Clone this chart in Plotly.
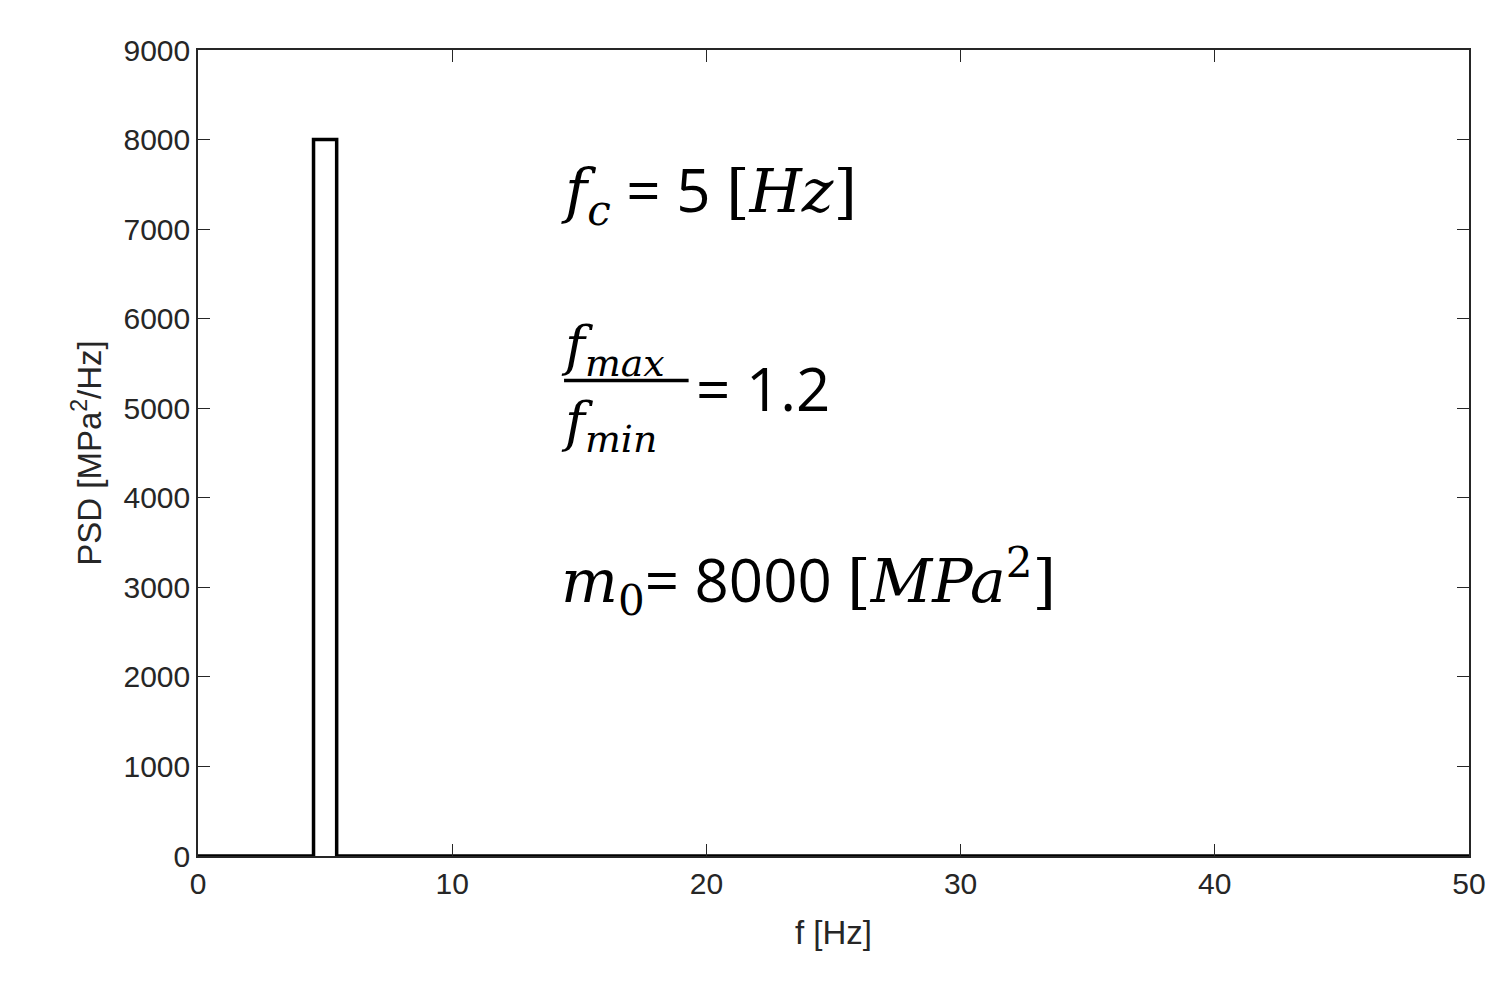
import plotly.graph_objects as go

freq = [0, 4.545, 4.545, 5.455, 5.455, 50]
psd = [0, 0, 8000, 8000, 0, 0]
x_ticks = [0, 10, 20, 30, 40, 50]
y_ticks = [0, 1000, 2000, 3000, 4000, 5000, 6000, 7000, 8000, 9000]

fig = go.Figure(go.Scatter(x=freq, y=psd, mode="lines",
                           line=dict(color="black", width=3.5), hoverinfo="skip"))

ax = dict(showgrid=False, zeroline=False, showline=True, linecolor="#262626", linewidth=1.5,
          mirror="ticks", ticks="inside", ticklen=12, tickcolor="#262626", automargin=False,
          tickfont=dict(family="Liberation Sans, Arial", size=30, color="#262626"))
fig.update_xaxes(range=[0, 50], tickvals=x_ticks,
                 title=dict(text="f [Hz]", font=dict(family="Liberation Sans, Arial", size=33, color="#262626"), standoff=22), **ax)
fig.update_yaxes(range=[0, 9000], tickvals=y_ticks,
                 title=dict(text="PSD [MPa<sup>2</sup>/Hz]", font=dict(family="Liberation Sans, Arial", size=33, color="#262626"), standoff=12), **ax)

mf = dict(family="DejaVu Serif", size=60, color="black")
sf = dict(family="Open Sans, Liberation Sans", size=60, color="black")
ff = dict(family="DejaVu Serif", size=54, color="black")
fig.add_annotation(x=14.2, y=7420, xanchor="left", showarrow=False, font=mf,
                   text="<i>f</i><sub><i>c</i></sub><span style='font-family:Open Sans'> = 5 </span>[<i>Hz</i>]")
fig.add_annotation(x=14.2, y=5650, xanchor="left", showarrow=False, font=ff,
                   text="<i>f</i><sub><i>max</i></sub>")
fig.add_annotation(x=14.2, y=4800, xanchor="left", showarrow=False, font=ff,
                   text="<i>f</i><sub><i>min</i></sub>")
fig.add_shape(type="line", x0=14.4, x1=19.3, y0=5310, y1=5310, line=dict(color="black", width=3.5))
fig.add_annotation(x=19.5, y=5230, xanchor="left", showarrow=False, font=sf, text="= 1.2")
fig.add_annotation(x=14.2, y=3070, xanchor="left", showarrow=False, font=mf,
                   text="<i>m</i><sub>0</sub><span style='font-family:Open Sans'>= 8000 </span>[<i>MPa</i><sup>2</sup>]")

fig.update_layout(width=1502, height=991, margin=dict(l=190, r=41, t=42, b=143),
                  plot_bgcolor="white", paper_bgcolor="white", showlegend=False)
fig.write_html("out.html")
